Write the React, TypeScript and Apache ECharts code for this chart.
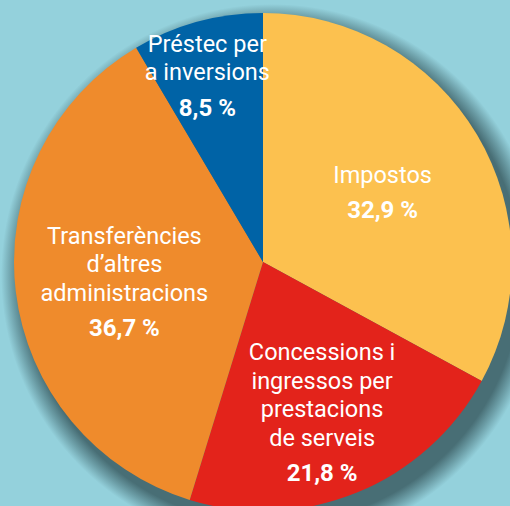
import React, { useEffect, useRef } from "react";
import * as echarts from "echarts";

const categories = [
  "Impostos",
  "Concessions i\ningressos per\nprestacions\nde serveis",
  "Transferències\nd’altres\nadministracions",
  "Préstec per\na inversions",
];
const values = [32.9, 21.8, 36.7, 8.5];
const colors = ["#FCC14F", "#E3231B", "#EF8B2C", "#0063A6"];
const labelOffsets = [
  [10, -1],
  [11, 36],
  [-12, 8],
  [-22, -60],
];

const fmt = (v: number) => v.toFixed(1).replace(".", ",") + " %";

export default function App() {
  const ref = useRef<HTMLDivElement>(null);
  useEffect(() => {
    document.body.style.margin = "0";
    if (!ref.current) return;
    const chart = echarts.init(ref.current, undefined, { renderer: "svg" });
    const center = [263, 262];
    const radius = 249;
    const shadowGradient = new echarts.graphic.RadialGradient(0.5, 0.5, 0.5, [
      { offset: 0, color: "#486E75" },
      { offset: 0.92, color: "#486E75" },
      { offset: 0.96, color: "#6C9EA7" },
      { offset: 1, color: "#94D1DC" },
    ]);
    chart.setOption({
      animation: false,
      backgroundColor: "#94D1DC",
      series: [
        {
          type: "pie",
          name: "shadow",
          center: [center[0] + 9, center[1] + 13],
          radius: radius + 22,
          label: { show: false },
          labelLine: { show: false },
          emphasis: { disabled: true },
          tooltip: { show: false },
          itemStyle: { color: shadowGradient, borderWidth: 0 },
          data: [{ value: 1, name: "shadow" }],
        },
        {
          type: "pie",
          center,
          radius,
          startAngle: 90,
          clockwise: true,
          itemStyle: { borderWidth: 0 },
          labelLine: { show: false },
          label: {
            show: true,
            position: "inside",
            color: "#fff",
            formatter: (p: any) =>
              p.name
                .split("\n")
                .map((l: string) => `{n|${l}}`)
                .join("\n") + `\n{v|${fmt(p.value)}}`,
            rich: {
              n: {
                fontFamily: "Roboto",
                fontSize: 23.5,
                lineHeight: 28.5,
                color: "#fff",
                align: "center",
              },
              v: {
                fontFamily: "Roboto",
                fontSize: 24,
                fontWeight: "bold",
                lineHeight: 42,
                color: "#fff",
                align: "center",
              },
            },
          },
          emphasis: { disabled: true },
          data: categories.map((name, i) => ({
            name,
            value: values[i],
            itemStyle: { color: colors[i] },
            label: { offset: labelOffsets[i] },
          })),
        },
      ],
    });
    return () => chart.dispose();
  }, []);
  return (
    <div
      ref={ref}
      style={{ position: "absolute", left: 0, top: 0, width: 510, height: 506 }}
    />
  );
}
